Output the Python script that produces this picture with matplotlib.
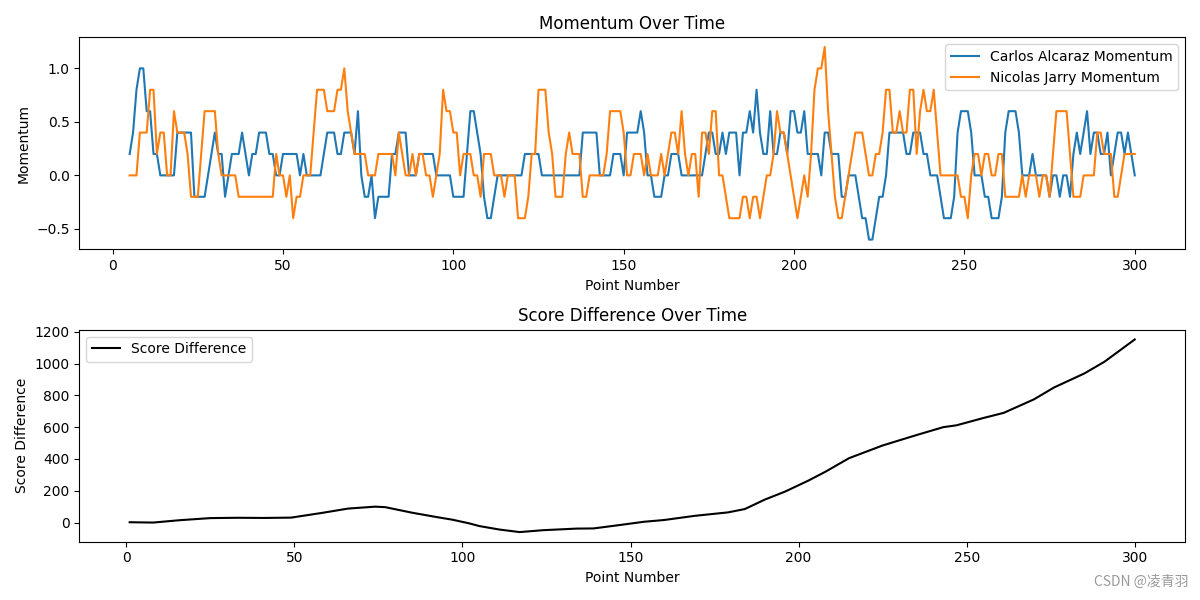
"""Momentum and score difference over time for Alcaraz vs Jarry."""
import matplotlib
matplotlib.use("Agg")
import matplotlib.pyplot as plt

# ---- momentum per point (points 5..300) ----
momentum_start = 5
alcaraz_momentum = [
    0.2, 0.4, 0.8, 1.0, 1.0, 0.6, 0.6, 0.2, 0.2, 0.0,            # 5-14
    0.0, 0.0, 0.0, 0.0, 0.4, 0.4, 0.4, 0.4, 0.4, -0.2,           # 15-24
    -0.2, -0.2, -0.2, 0.0, 0.2, 0.4, 0.2, 0.2, -0.2, 0.0,        # 25-34
    0.2, 0.2, 0.2, 0.4, 0.2, 0.0, 0.2, 0.2, 0.4, 0.4,            # 35-44
    0.4, 0.2, 0.2, 0.0, 0.0, 0.2, 0.2, 0.2, 0.2, 0.2,            # 45-54
    0.0, 0.2, 0.0, 0.0, 0.0, 0.0, 0.0, 0.2, 0.4, 0.4,            # 55-64
    0.4, 0.2, 0.2, 0.4, 0.4, 0.4, 0.2, 0.6, 0.0, -0.2,           # 65-74
    -0.2, 0.0, -0.4, -0.2, -0.2, -0.2, -0.2, 0.2, 0.2, 0.4,      # 75-84
    0.4, 0.4, 0.0, 0.0, 0.0, 0.2, 0.2, 0.2, 0.2, 0.2,            # 85-94
    0.0, 0.0, 0.0, 0.0, 0.0, -0.2, -0.2, -0.2, -0.2, 0.2,        # 95-104
    0.6, 0.6, 0.4, 0.2, -0.2, -0.4, -0.4, -0.2, 0.0, 0.0,        # 105-114
    0.0, 0.0, 0.0, 0.0, 0.0, 0.0, 0.2, 0.2, 0.2, 0.2,            # 115-124
    0.2, 0.0, 0.0, 0.0, 0.0, 0.0, 0.0, 0.0, 0.0, 0.0,            # 125-134
    0.0, 0.0, 0.0, 0.4, 0.4, 0.4, 0.4, 0.4, 0.0, 0.0,            # 135-144
    0.0, 0.0, 0.2, 0.2, 0.2, 0.0, 0.4, 0.4, 0.4, 0.4,            # 145-154
    0.6, 0.4, 0.0, 0.0, -0.2, -0.2, -0.2, 0.0, 0.0, 0.2,         # 155-164
    0.2, 0.2, 0.0, 0.0, 0.0, 0.0, 0.0, 0.0, 0.0, 0.2,            # 165-174
    0.4, 0.4, 0.2, 0.2, 0.4, 0.2, 0.4, 0.4, 0.4, 0.0,            # 175-184
    0.4, 0.4, 0.6, 0.4, 0.8, 0.4, 0.2, 0.2, 0.6, 0.2,            # 185-194
    0.2, 0.4, 0.4, 0.2, 0.6, 0.6, 0.4, 0.4, 0.6, 0.2,            # 195-204
    0.2, 0.2, 0.2, 0.0, 0.4, 0.4, 0.2, 0.2, 0.2, -0.2,           # 205-214
    -0.2, 0.0, 0.0, 0.0, -0.2, -0.4, -0.4, -0.6, -0.6, -0.4,     # 215-224
    -0.2, -0.2, 0.0, 0.4, 0.4, 0.4, 0.4, 0.4, 0.2, 0.2,          # 225-234
    0.4, 0.4, 0.4, 0.2, 0.2, 0.0, 0.0, 0.0, -0.2, -0.4,          # 235-244
    -0.4, -0.4, -0.2, 0.4, 0.6, 0.6, 0.6, 0.4, 0.0, 0.0,         # 245-254
    0.0, -0.2, -0.2, -0.4, -0.4, -0.4, -0.2, 0.4, 0.6, 0.6,      # 255-264
    0.6, 0.4, 0.0, 0.0, 0.0, 0.2, 0.0, 0.0, 0.0, 0.0,            # 265-274
    -0.2, 0.0, 0.0, -0.2, 0.0, 0.0, -0.2, 0.2, 0.4, 0.2,         # 275-284
    0.4, 0.6, 0.2, 0.4, 0.4, 0.2, 0.2, 0.4, 0.0, 0.2,            # 285-294
    0.4, 0.4, 0.2, 0.4, 0.2, 0.0,                                # 295-300
]
jarry_momentum = [
    0.0, 0.0, 0.0, 0.4, 0.4, 0.4, 0.8, 0.8, 0.2, 0.4,            # 5-14
    0.4, 0.0, 0.0, 0.6, 0.4, 0.4, 0.4, 0.2, -0.2, -0.2,          # 15-24
    -0.2, 0.2, 0.6, 0.6, 0.6, 0.6, 0.2, 0.0, 0.0, 0.0,           # 25-34
    0.0, 0.0, -0.2, -0.2, -0.2, -0.2, -0.2, -0.2, -0.2, -0.2,    # 35-44
    -0.2, -0.2, -0.2, 0.2, 0.0, 0.0, -0.2, 0.0, -0.4, -0.2,      # 45-54
    -0.2, 0.0, 0.0, 0.0, 0.4, 0.8, 0.8, 0.8, 0.6, 0.6,           # 55-64
    0.6, 0.8, 0.8, 1.0, 0.6, 0.4, 0.2, 0.2, 0.2, 0.2,            # 65-74
    0.0, 0.0, 0.0, 0.2, 0.2, 0.2, 0.2, 0.2, 0.0, 0.4,            # 75-84
    0.2, 0.0, 0.0, 0.2, 0.0, 0.2, 0.2, 0.0, 0.0, -0.2,           # 85-94
    0.0, 0.2, 0.8, 0.6, 0.6, 0.4, 0.4, 0.0, 0.2, 0.2,            # 95-104
    0.2, 0.0, 0.0, -0.2, 0.2, 0.2, 0.2, 0.0, 0.0, 0.0,           # 105-114
    -0.2, 0.0, 0.0, 0.0, -0.4, -0.4, -0.4, -0.2, 0.2, 0.2,       # 115-124
    0.8, 0.8, 0.8, 0.4, 0.2, -0.2, -0.2, -0.2, 0.2, 0.4,         # 125-134
    0.2, 0.2, 0.2, -0.2, -0.2, 0.0, 0.0, 0.0, 0.0, 0.0,          # 135-144
    0.2, 0.6, 0.6, 0.6, 0.6, 0.4, 0.0, 0.0, 0.2, 0.2,            # 145-154
    0.2, 0.0, 0.2, 0.0, 0.0, 0.0, 0.2, 0.0, 0.2, 0.4,            # 155-164
    0.4, 0.2, 0.6, 0.2, 0.0, 0.2, 0.2, -0.2, 0.4, 0.4,           # 165-174
    0.2, 0.6, 0.6, 0.0, 0.0, -0.2, -0.4, -0.4, -0.4, -0.4,       # 175-184
    -0.2, -0.2, -0.4, -0.2, -0.2, -0.4, -0.2, 0.0, 0.0, 0.2,     # 185-194
    0.6, 0.4, 0.4, 0.2, 0.0, -0.2, -0.4, -0.2, 0.0, -0.2,        # 195-204
    0.2, 0.8, 1.0, 1.0, 1.2, 0.6, 0.2, -0.2, -0.4, -0.4,         # 205-214
    -0.2, 0.0, 0.2, 0.4, 0.4, 0.4, 0.2, 0.0, 0.0, 0.2,           # 215-224
    0.2, 0.4, 0.8, 0.8, 0.4, 0.4, 0.6, 0.4, 0.4, 0.8,            # 225-234
    0.8, 0.2, 0.6, 0.8, 0.6, 0.6, 0.8, 0.4, 0.0, 0.0,            # 235-244
    0.0, 0.0, 0.0, 0.0, -0.2, -0.2, -0.4, 0.0, 0.2, 0.2,         # 245-254
    0.0, 0.2, 0.2, 0.0, 0.0, 0.2, 0.2, -0.2, -0.2, -0.2,         # 255-264
    -0.2, -0.2, 0.0, -0.2, 0.0, 0.0, 0.0, -0.2, 0.0, 0.0,        # 265-274
    -0.2, 0.2, 0.6, 0.6, 0.6, 0.6, 0.2, -0.2, -0.2, -0.2,        # 275-284
    0.0, 0.0, 0.0, 0.0, 0.4, 0.4, 0.2, 0.2, 0.2, -0.2,           # 285-294
    -0.2, 0.0, 0.2, 0.2, 0.2, 0.2,                               # 295-300
]

# ---- score difference, read at sample points ----
score_points = [1, 8, 16, 25, 33, 41, 49, 58, 66, 74, 77, 85, 93, 97, 102,
                105, 111, 117, 124, 134, 139, 147, 154, 160, 169, 179, 184,
                190, 196, 203, 208, 215, 225, 235, 243, 247, 255, 261, 270,
                276, 285, 291, 300]
score_diff = [2, 0, 15, 28, 30, 29, 31, 60, 88, 100, 97, 62, 32, 18, -5,
              -22, -44, -60, -48, -38, -37, -15, 5, 16, 42, 64, 85,
              145, 195, 265, 320, 405, 485, 550, 600, 612, 658, 690, 775,
              850, 938, 1012, 1152]

points = list(range(momentum_start, momentum_start + len(alcaraz_momentum)))

fig, (ax1, ax2) = plt.subplots(2, 1, figsize=(12, 6), dpi=100)

ax1.plot(points, alcaraz_momentum, label="Carlos Alcaraz Momentum")
ax1.plot(points, jarry_momentum, label="Nicolas Jarry Momentum")
ax1.set_title("Momentum Over Time")
ax1.set_xlabel("Point Number")
ax1.set_ylabel("Momentum")
ax1.legend(loc="upper right")

ax2.plot(score_points, score_diff, color="black", label="Score Difference")
ax2.set_title("Score Difference Over Time")
ax2.set_xlabel("Point Number")
ax2.set_ylabel("Score Difference")
ax2.legend(loc="upper left")

fig.tight_layout()
fig.text(0.99, 0.018, "CSDN @凌青羽", ha="right", va="bottom", color="#9a9a9a",
         fontsize=10, family=["Noto Sans CJK SC", "DejaVu Sans"])
fig.savefig("out.png")
